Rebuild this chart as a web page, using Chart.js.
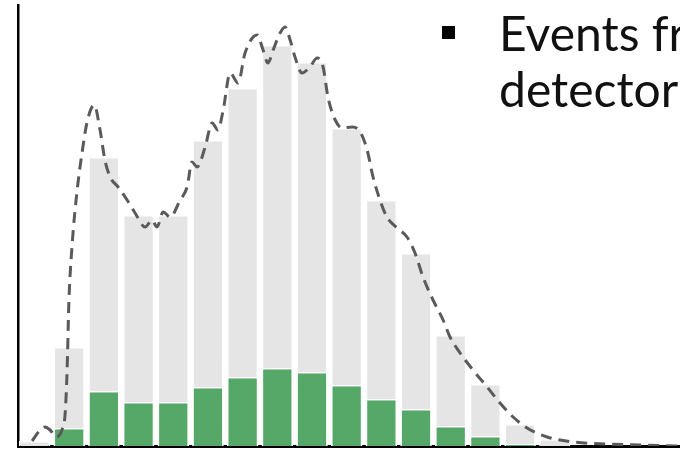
<!DOCTYPE html>
<html>
<head>
<meta charset="utf-8">
<script src="https://cdn.jsdelivr.net/npm/chart.js@4.4.1/dist/chart.umd.min.js"></script>
<style>
  html, body { margin: 0; padding: 0; background: #fff; overflow: hidden; }
  #wrap { position: relative; width: 680px; height: 450px; overflow: hidden; }
  #chart { position: absolute; left: 0; top: 0; }
  .bullet { position: absolute; left: 442px; top: 26px; width: 13px; height: 13px; background: #000; }
  .note {
    position: absolute; left: 499px; top: 5px;
    font-family: Lato, "Noto Sans", sans-serif; font-size: 48px; line-height: 56px;
    color: #111; white-space: nowrap;
  }
</style>
</head>
<body>
<div id="wrap">
  <canvas id="chart" width="680" height="450"></canvas>
  <div class="bullet"></div>
  <div class="note">Events from<br>detector</div>
</div>
<script>
// histogram bins (bin index = centre of the bar)
const binCenters = [0, 1, 2, 3, 4, 5, 6, 7, 8, 9, 10, 11, 12, 13, 14, 15];
const allEvents = [1.25, 24.75, 72.25, 57.75, 57.75, 76.5, 89.5, 100.25, 96, 79.5, 61.5, 48.25, 27.75, 15.5, 5.5, 1.75];
const detectorEvents = [0, 4.5, 13.75, 11, 11, 14.75, 17.25, 19.5, 18.5, 15.25, 11.75, 9.25, 5, 2.5, 0.5, 0];

// smoothed density curve (dashed)
const curveX = [-0.07, 0.16, 0.30, 0.45, 0.62, 0.79, 0.88, 0.94, 0.99, 1.08, 1.23, 1.37, 1.51, 1.72, 1.89, 2.03, 2.18, 2.41,
  2.67, 2.90, 3.19, 3.39, 3.53, 3.71, 3.91, 4.20, 4.40, 4.54, 4.69, 4.92, 5.12, 5.29, 5.44, 5.64, 5.87, 6.07, 6.42,
  6.59, 6.73, 6.88, 7.08, 7.22, 7.37, 7.51, 7.71, 7.94, 8.15, 8.32, 8.46, 8.67, 8.87, 9.16, 9.39, 9.59, 9.76, 9.96,
  10.16, 10.45, 10.74, 10.97, 11.20, 11.49, 11.78, 11.98, 12.27, 12.64, 13.05, 13.42, 13.80, 14.20, 14.78, 15.53,
  16.51, 17.46, 18.61];
const curveY = [1.25, 4, 4.75, 4, 2.25, 4, 7.75, 19, 35.75, 49.75, 64, 73.25, 80.75, 85.25, 79, 71.5, 67.25, 64.75,
  61.5, 58.25, 54.75, 56.5, 54.75, 58.5, 57.25, 61.5, 64.75, 71, 69.75, 74.75, 80.75, 79, 84, 93.25, 90.75, 98.25, 102.75,
  99, 95.75, 99, 103.25, 104.75, 101.5, 97.25, 93.25, 94.75, 97, 94.75, 87.25, 81.5, 79.5, 79.75, 78.5, 74, 67.25, 61.5,
  57.25, 54.5, 52.25, 48.25, 42.25, 36.5, 31.5, 27.25, 23.25, 19, 14.75, 10.75, 7.25, 4.5, 2.25, 1,
  0.5, 0.25, 0];

document.addEventListener('DOMContentLoaded', () => {
  const toPoints = (xs, ys) => xs.map((x, i) => ({ x: x, y: ys[i] }));

  new Chart(document.getElementById('chart').getContext('2d'), {
    data: {
      datasets: [
        {
          type: 'line',
          label: 'density',
          data: toPoints(curveX, curveY),
          borderColor: '#5a5a5a',
          borderWidth: 3,
          borderDash: [11, 7],
          pointRadius: 0,
          cubicInterpolationMode: 'monotone',
          fill: false,
          order: 0,
        },
        {
          type: 'bar',
          label: 'detector',
          data: toPoints(binCenters, detectorEvents),
          backgroundColor: '#55a868',
          borderColor: '#ffffff',
          borderWidth: 1.5,
          grouped: false,
          barPercentage: 1,
          categoryPercentage: 0.9,
          order: 1,
        },
        {
          type: 'bar',
          label: 'all',
          data: toPoints(binCenters, allEvents),
          backgroundColor: '#e5e5e5',
          borderColor: '#ffffff',
          borderWidth: 1.5,
          grouped: false,
          barPercentage: 1,
          categoryPercentage: 0.9,
          order: 2,
        }
      ]
    },
    options: {
      responsive: false,
      animation: false,
      layout: { padding: { left: 18, top: 5, right: 0, bottom: 4 } },
      plugins: { legend: { display: false }, tooltip: { enabled: false } },
      scales: {
        x: {
          type: 'linear',
          offset: false,
          min: -0.476,
          max: 18.61,
          grid: { display: false, drawTicks: false, offset: false },
          ticks: { display: false },
          border: { display: true, color: '#000', width: 3 },
          afterFit: (scale) => { scale.height = 0; }
        },
        y: {
          min: 0,
          max: 110.25,
          grid: { display: false, drawTicks: false },
          ticks: { display: false },
          border: { display: true, color: '#000', width: 2.5 },
          afterFit: (scale) => { scale.width = 0; }
        }
      }
    }
  });
});
</script>
</body>
</html>
